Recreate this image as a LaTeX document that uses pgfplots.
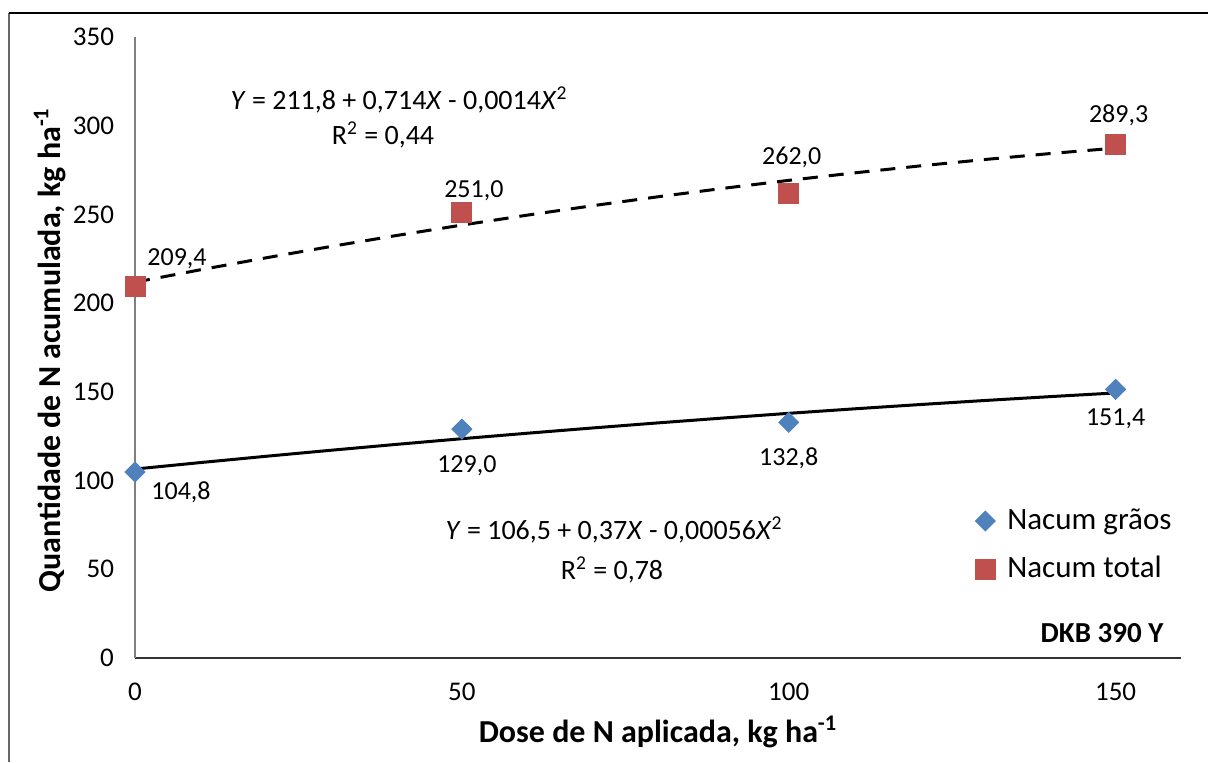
\documentclass[border=0pt]{standalone}
\usepackage{pgfplots}
\pgfplotsset{compat=1.18}
\usepackage{fontspec}
\setmainfont{Carlito}
\definecolor{cblue}{HTML}{4F81BD}
\definecolor{cred}{HTML}{C0504D}
\begin{document}
\begin{tikzpicture}[x=1pt,y=1pt]
\useasboundingbox (0,0) rectangle (604,381);
\draw[black!60,line width=0.8pt] (4.5,0) -- (4.5,374.5);
\draw[black,line width=0.8pt] (4.5,374.5) -- (604,374.5);
\begin{axis}[
  at={(67.5pt,52pt)}, anchor=south west,
  scale only axis, width=523pt, height=310.5pt,
  xmin=0, xmax=160, ymin=0, ymax=350,
  axis x line*=bottom, axis y line*=left,
  x axis line style={color=black!80, line width=0.8pt, -},
  y axis line style={color=black!50, line width=0.8pt, -},
  xtick={0,50,100,150}, ytick={0,50,...,350},
  major tick length=0pt,
  /pgf/number format/assume math mode=true,
  tick label style={font=\fontsize{13.5}{15}\selectfont},
  xticklabel style={yshift=-9pt},
  yticklabel style={xshift=-7pt},
  clip=false,
  legend style={draw=none, fill=none, at={(rel axis cs:0.803,0.247)}, anchor=north west,
    font=\fontsize{15.5}{17}\selectfont, inner sep=0pt, row sep=8pt,
    nodes={inner sep=1pt, text height=11pt, text depth=3pt},
    /tikz/every odd column/.append style={column sep=5pt}},
  legend cell align=left,
]
% trend lines (fitted curves, sampled)
\addplot[black, line width=1.5pt, forget plot] coordinates {
(0,106.5)(10,110.144)(20,113.676)(30,117.096)(40,120.404)(50,123.6)(60,126.684)(70,129.656)(80,132.516)(90,135.264)(100,137.9)(110,140.424)(120,142.836)(130,145.136)(140,147.324)(150,149.4)};
\addplot[black, line width=1.5pt, dash pattern=on 7.5pt off 5.5pt, forget plot] coordinates {
(0,211.8)(10,218.8)(20,225.52)(30,231.96)(40,238.12)(50,244.0)(60,249.6)(70,254.92)(80,259.96)(90,264.72)(100,269.2)(110,273.4)(120,277.32)(130,280.96)(140,284.32)(150,287.4)};
\addplot[only marks, mark=square*, mark size=3.54pt, mark options={rotate=45, fill=cblue, draw=cblue}] coordinates {(0,104.8)(50,129.0)(100,132.8)(150,151.4)};
\addlegendentry{Nacum grãos}
\addplot[only marks, mark=square*, mark size=5pt, mark options={fill=cred, draw=cred}] coordinates {(0,209.4)(50,251.0)(100,262.0)(150,289.3)};
\addlegendentry{Nacum total}
% data labels
\begin{scope}[every node/.style={font=\fontsize{13}{15}\selectfont}]
\node at (axis cs:0,209.4) [xshift=21pt, yshift=14pt] {209,4};
\node at (axis cs:50,251.0) [xshift=6pt, yshift=11pt] {251,0};
\node at (axis cs:100,262.0) [xshift=1.5pt, yshift=18pt] {262,0};
\node at (axis cs:150,289.3) [xshift=1.5pt, yshift=14.5pt] {289,3};
\node at (axis cs:0,104.8) [xshift=23pt, yshift=-10pt] {104,8};
\node at (axis cs:50,129.0) [xshift=2.5pt, yshift=-18.5pt] {129,0};
\node at (axis cs:100,132.8) [xshift=0pt, yshift=-18pt] {132,8};
\node at (axis cs:150,151.4) [xshift=0pt, yshift=-14.5pt] {151,4};
\end{scope}
\end{axis}
% equations
\node[font=\fontsize{14}{16}\selectfont] at (199.5,331) {\textit{Y} = 211,8 + 0,714\textit{X} - 0,0014\textit{X}\textsuperscript{2}};
\node[font=\fontsize{14}{16}\selectfont] at (191.5,313.5) {R\textsuperscript{2} = 0,44};
\node[font=\fontsize{14}{16}\selectfont] at (307,116) {\textit{Y} = 106,5 + 0,37\textit{X} - 0,00056\textit{X}\textsuperscript{2}};
\node[font=\fontsize{14}{16}\selectfont] at (306,96) {R\textsuperscript{2} = 0,78};
\node[font=\bfseries\fontsize{14.5}{16}\selectfont] at (551,64.5) {DKB 390 Y};
% axis titles
\node[font=\bfseries\fontsize{16}{18}\selectfont] at (329,15) {Dose de N aplicada, kg ha\textsuperscript{-1}};
\node[font=\bfseries\fontsize{16}{18}\selectfont, rotate=90] at (25,206) {Quantidade de N acumulada, kg ha\textsuperscript{-1}};
\end{tikzpicture}
\end{document}
